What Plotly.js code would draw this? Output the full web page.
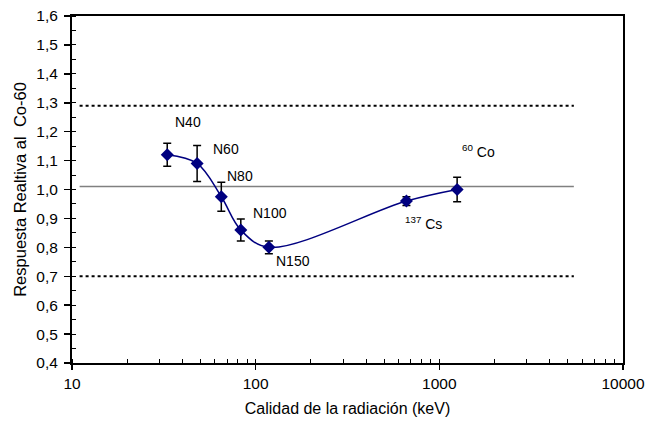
<!DOCTYPE html>
<html>
<head>
<meta charset="utf-8">
<script src="https://cdn.plot.ly/plotly-3.0.1.min.js"></script>
<style>html,body{margin:0;padding:0;background:#fff;}#chart{width:647px;height:425px;}</style>
</head>
<body>
<div id="chart"></div>
<script>
// Data
const energies = [33, 48, 65, 83, 118, 662, 1250];
const response = [1.12, 1.09, 0.975, 0.86, 0.80, 0.96, 1.00];
const errors   = [0.04, 0.062, 0.05, 0.038, 0.022, 0.015, 0.042];
const pointLabels = ['N40', 'N60', 'N80', 'N100', 'N150', '<sup>137</sup> Cs', '<sup>60</sup> Co'];
const labelX = [43, 68.7, 82.4, 120, 159, 817, 1625];
const labelY = [1.233, 1.140, 1.045, 0.919, 0.753, 0.883, 1.132];
const refLineX = [11, 5400];
const upperLimit = [1.29, 1.29];
const referenceLevel = [1.01, 1.01];
const lowerLimit = [0.70, 0.70];
const yTicks = [0.4, 0.5, 0.6, 0.7, 0.8, 0.9, 1.0, 1.1, 1.2, 1.3, 1.4, 1.5, 1.6];
const xTicks = [10, 100, 1000, 10000];

const font = 'Liberation Sans, Arial, sans-serif';

const traces = [
  {x: refLineX, y: upperLimit, mode: 'lines', line: {color: '#000', width: 2, dash: 'dot'}, hoverinfo: 'skip'},
  {x: refLineX, y: referenceLevel, mode: 'lines', line: {color: '#808080', width: 1.5}, hoverinfo: 'skip'},
  {x: refLineX, y: lowerLimit, mode: 'lines', line: {color: '#000', width: 2, dash: 'dot'}, hoverinfo: 'skip'},
  {
    x: energies, y: response, mode: 'lines+markers',
    line: {color: '#000080', width: 1.5, shape: 'spline', smoothing: 1},
    marker: {symbol: 'diamond', size: 10, color: '#000080'},
    error_y: {type: 'data', array: errors, visible: true, color: '#000', thickness: 1.5, width: 4}
  }
];

const annotations = pointLabels.map((t, i) => ({
  x: Math.log10(labelX[i]), y: labelY[i], xref: 'x', yref: 'y',
  text: t, showarrow: false, font: {family: font, size: 14, color: '#000'}
}));

const layout = {
  width: 647, height: 425,
  margin: {l: 72, r: 24, t: 16, b: 62, pad: 0},
  paper_bgcolor: '#fff', plot_bgcolor: '#fff',
  showlegend: false,
  separators: ',.',
  font: {family: font, size: 15, color: '#000'},
  xaxis: {
    type: 'log', range: [1, 4],
    tickvals: xTicks, ticktext: xTicks.map(String),
    ticks: 'outside', ticklen: 5, tickwidth: 1.5, tickcolor: '#000',
    minor: {ticks: 'inside', dtick: 'D1', ticklen: 4, tickwidth: 1, tickcolor: '#000', showgrid: false},
    showline: true, linecolor: '#000', linewidth: 2, mirror: true,
    showgrid: false, zeroline: false, automargin: false,
    tickfont: {family: font, size: 15.5},
    title: {text: 'Calidad de la radiación (keV)', font: {family: font, size: 16}, standoff: 12}
  },
  yaxis: {
    range: [0.4, 1.6],
    tickvals: yTicks, tickformat: '.1f',
    ticks: 'outside', ticklen: 6, tickwidth: 1.5, tickcolor: '#000',
    ticklabelstandoff: 3,
    minor: {ticks: 'inside', dtick: 0.05, ticklen: 4, tickwidth: 1, tickcolor: '#000', showgrid: false},
    showline: true, linecolor: '#000', linewidth: 2, mirror: true,
    showgrid: false, zeroline: false, automargin: false,
    tickfont: {family: font, size: 15.5},
    title: {text: 'Respuesta Realtiva al&nbsp; Co-60', font: {family: font, size: 16.5}, standoff: 6}
  },
  annotations: annotations
};

Plotly.newPlot('chart', traces, layout, {displayModeBar: false, staticPlot: true});
</script>
</body>
</html>
